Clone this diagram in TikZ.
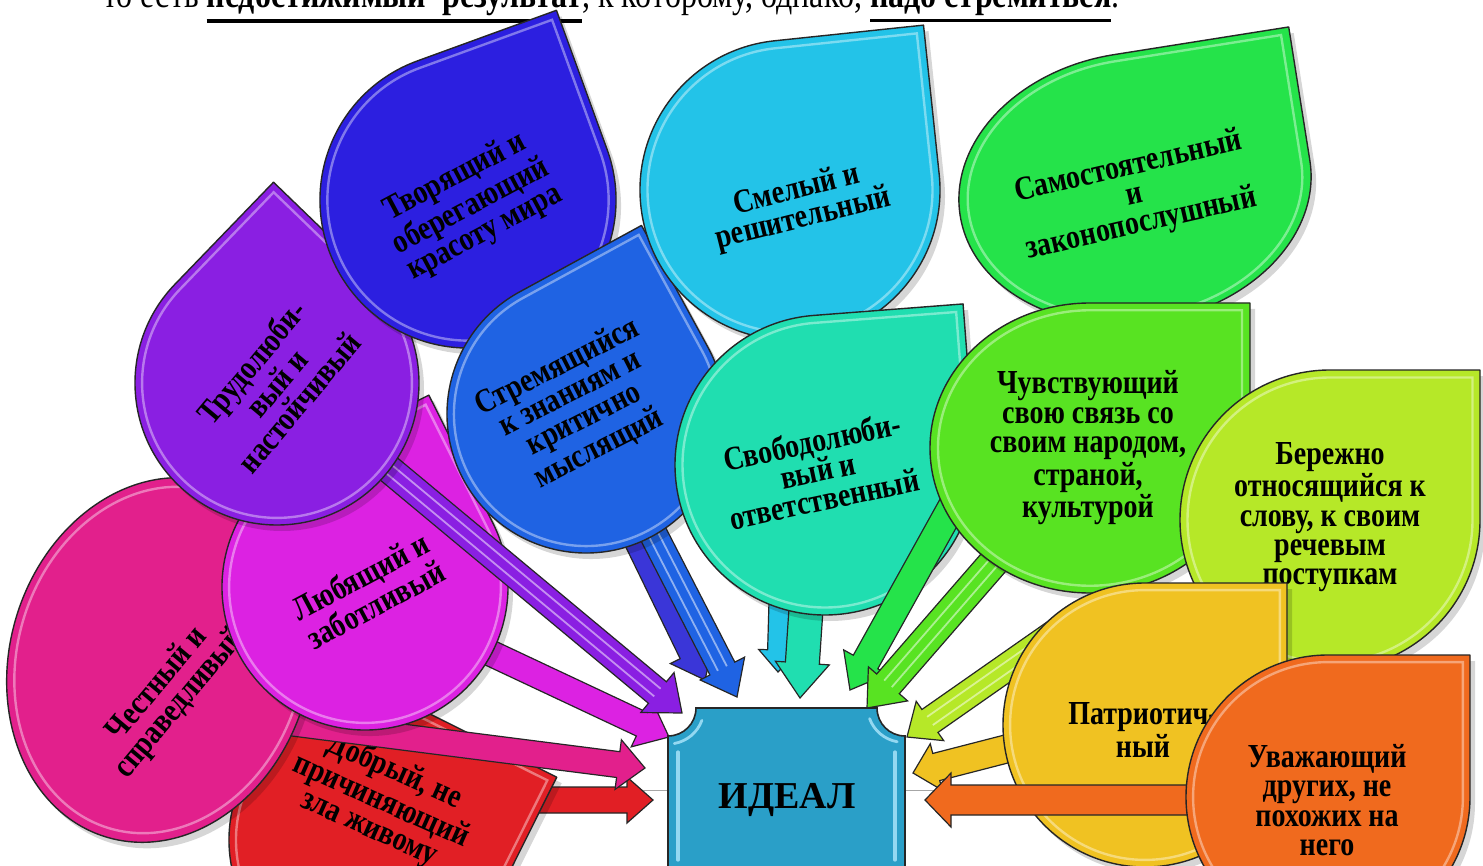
\documentclass[tikz,border=0pt]{standalone}
\usepackage{fontspec}
\setmainfont{Liberation Serif}
\usetikzlibrary{calc}
\definecolor{cRed}{HTML}{E11F25}
\definecolor{cPink}{HTML}{E2208C}
\definecolor{cMag}{HTML}{DC22E2}
\definecolor{cPur}{HTML}{8A1FE2}
\definecolor{cTvo}{HTML}{2C1FE0}
\definecolor{cTvoA}{HTML}{3A36D8}
\definecolor{cStr}{HTML}{1F63E3}
\definecolor{cSme}{HTML}{23C3E8}
\definecolor{cSvo}{HTML}{20DEB0}
\definecolor{cSam}{HTML}{25E34A}
\definecolor{cChu}{HTML}{58E322}
\definecolor{cBer}{HTML}{B6E828}
\definecolor{cPat}{HTML}{F0C222}
\definecolor{cUva}{HTML}{F06A1E}
\definecolor{cIdeal}{HTML}{2A9FC8}

\newcommand\myul[1]{\leavevmode\vtop{\hbox{#1}\kern1.2pt\hrule height 1.4pt}}

% teardrop: name, cx, cy, rx, ry, rotate, colour
\newcommand\tdrop[7]{%
  \begin{scope}[shift={(#2+5,#3+6)},rotate=#6]
    \fill[black,opacity=0.16] (#4,-#5) -- (#4,0) arc[start angle=0,delta angle=270,x radius=#4,y radius=#5] -- cycle;
  \end{scope}
  \begin{scope}[shift={(#2,#3)},rotate=#6]
    \coordinate (#1) at (0,0);
    \filldraw[fill=#7,draw=black!85,line width=0.7pt,line join=round] (#4,-#5) -- (#4,0) arc[start angle=0,delta angle=270,x radius=#4,y radius=#5] -- cycle;
    \draw[white,opacity=0.4,line width=1.2pt,scale=0.95] (#4,-#5) -- (#4,0) arc[start angle=0,delta angle=270,x radius=#4,y radius=#5] -- cycle;
  \end{scope}}

% block arrow: tail, tip, shaft half width, head half width, head length, colour
\newcommand\barrow[6]{%
  \coordinate (hb) at ($(#2)!#5!(#1)$);
  \filldraw[fill=#6,draw=black!85,line width=0.6pt,line join=miter]
    ($(#1)!#3!90:(#2)$) -- ($(hb)!#3!90:(#2)$) -- ($(hb)!#4!90:(#2)$) -- (#2)
    -- ($(hb)!#4!-90:(#2)$) -- ($(hb)!#3!-90:(#2)$) -- ($(#1)!#3!-90:(#2)$) -- cycle;}
% light stripe along the shaft (after \barrow): tail, tip, offset, side angle
\newcommand\bstripe[4]{%
  \draw[white,opacity=0.5,line width=0.9pt] ($(#1)!#3!#4:(#2)$) -- ($(hb)!#3!#4:(#2)$);}

\tikzset{lbl/.style={font=\fontsize{14}{12.2}\selectfont\bfseries,align=center,text=black,inner sep=0pt,rotate=#1,yscale=1.2},
         lbl/.default=0}

\begin{document}
\begin{tikzpicture}[x=0.5pt,y=-0.5pt]
\useasboundingbox (0,0) rectangle (1483,866);
\fill[white] (0,0) rectangle (1483,866);
\clip (0,0) rectangle (1483,866);

% top line of text
\node[anchor=base west,inner sep=0pt,font=\fontsize{16}{16}\selectfont,yscale=1.2] (toptext) at (103,8)
  {то есть \myul{\textbf{недостижимый\ \ результат}}, к которому, однако, \myul{\textbf{надо стремиться}}.};

% thin layout line
\coordinate (lineL) at (560,790);
\coordinate (lineR) at (1000,790);
\draw[gray!70,line width=0.5pt] (lineL) -- (lineR);

% arrow end points
\coordinate (aRt) at (460,800);  \coordinate (aRh) at (653,800);
\coordinate (aPkt) at (230,715); \coordinate (aPkh) at (645,768);
\coordinate (aMt) at (420,620);  \coordinate (aMh) at (669,737);
\coordinate (aPut) at (330,420); \coordinate (aPuh) at (682,713);
\coordinate (aTt) at (520,300);  \coordinate (aTh) at (705,680);
\coordinate (aSt) at (610,450);  \coordinate (aSh) at (737,697);
\coordinate (aCt) at (790,250);  \coordinate (aCh) at (778,672);
\coordinate (aVt) at (812,520);  \coordinate (aVh) at (800,698);
\coordinate (aGt) at (1000,420); \coordinate (aGh) at (850,690);
\coordinate (aChut) at (1000,555); \coordinate (aChuh) at (867,708);
\coordinate (aBt) at (1060,630); \coordinate (aBh) at (907,737);
\coordinate (aPat) at (1010,748); \coordinate (aPah) at (913,773);
\coordinate (aUt) at (1200,800); \coordinate (aUh) at (925,800);

% red
\barrow{aRt}{aRh}{6.5pt}{11.5pt}{13pt}{cRed}
\tdrop{dRed}{369}{840}{140}{140}{-26.5}{cRed}
\node[lbl=-24] (tRed) at (382,800) {Добрый, не\\причиняющий\\зла живому};

% pink
\barrow{aPkt}{aPkh}{6.5pt}{12.5pt}{13.5pt}{cPink}
\tdrop{dPink}{160}{660}{150}{185}{-17}{cPink}
\node[lbl=50] (tPink) at (169,694) {Честный и\\справедливый};

% magenta
\barrow{aMt}{aMh}{6.5pt}{12.5pt}{15pt}{cMag}
\tdrop{dMag}{365}{587}{143}{143}{26.6}{cMag}
\node[lbl=28] (tMag) at (368,590) {Любящий и\\заботливый};

% purple
\barrow{aPut}{aPuh}{7pt}{13pt}{16pt}{cPur}
\bstripe{aPut}{aPuh}{2.5pt}{90}\bstripe{aPut}{aPuh}{2.5pt}{-90}
\tdrop{dPur}{277}{383}{142}{142}{46}{cPur}
\node[lbl=50] (tPur) at (275,382) {Трудолюби-\\вый и\\настойчивый};

% dark blue
\barrow{aTt}{aTh}{6.5pt}{12pt}{15pt}{cTvoA}
\tdrop{dTvo}{468}{200}{148}{148}{20}{cTvo}
\node[lbl=28] (tTvo) at (470,205) {Творящий и\\оберегающий\\красоту мира};

% blue
\barrow{aSt}{aSh}{7pt}{12.5pt}{16pt}{cStr}
\bstripe{aSt}{aSh}{2.5pt}{90}\bstripe{aSt}{aSh}{2.5pt}{-90}
\tdrop{dStr}{586}{414}{139}{139}{28.6}{cStr}
\node[lbl=27] (tStr) at (578,408) {Стремящийся\\к знаниям и\\критично\\мыслящий};

% cyan
\barrow{aCt}{aCh}{5.5pt}{10pt}{11pt}{cSme}
\tdrop{dSme}{790}{190}{150}{150}{6}{cSme}
\node[lbl=14] (tSme) at (800,205) {Смелый и\\решительный};

% teal
\barrow{aVt}{aVh}{8.5pt}{13.5pt}{17.5pt}{cSvo}
\tdrop{dSvo}{825}{465}{150}{150}{4.4}{cSvo}
\node[lbl=12] (tSvo) at (818,470) {Свободолюби-\\вый и\\ответственный};

% green
\barrow{aGt}{aGh}{7pt}{12.5pt}{16pt}{cSam}
\tdrop{dSam}{1135}{188}{177}{135}{9}{cSam}
\node[lbl=13] (tSam) at (1135,196) {Самостоятельный\\и\\законопослушный};

% light green
\barrow{aChut}{aChuh}{7.5pt}{13pt}{16pt}{cChu}
\bstripe{aChut}{aChuh}{2.5pt}{90}\bstripe{aChut}{aChuh}{2.5pt}{-90}
\tdrop{dChu}{1090}{448}{160}{145}{0}{cChu}
\node[lbl] (tChu) at (1088,448) {Чувствующий\\свою связь со\\своим народом,\\страной,\\культурой};

% yellow-green
\barrow{aBt}{aBh}{7pt}{12pt}{14pt}{cBer}
\bstripe{aBt}{aBh}{2.5pt}{90}\bstripe{aBt}{aBh}{2.5pt}{-90}
\tdrop{dBer}{1330}{520}{150}{150}{0}{cBer}
\node[lbl] (tBer) at (1330,517) {Бережно\\относящийся к\\слову, к своим\\речевым\\поступкам};

% yellow
\barrow{aPat}{aPah}{7pt}{12pt}{12pt}{cPat}
\tdrop{dPat}{1145}{725}{142}{142}{0}{cPat}
\node[lbl] (tPat) at (1143,730) {Патриотич-\\ный};

% orange
\barrow{aUt}{aUh}{7.5pt}{13.5pt}{13pt}{cUva}
\tdrop{dUva}{1328}{797}{142}{142}{0}{cUva}
\node[lbl] (tUva) at (1327,800) {Уважающий\\других, не\\похожих на\\него};

% central plaque
\filldraw[fill=cIdeal,draw=black!85,line width=0.8pt]
  (696,708) -- (877,708) arc[start angle=180,end angle=90,radius=28]
  -- (905,900) -- (668,900) -- (668,736) arc[start angle=90,end angle=0,radius=28] -- cycle;
\draw[cyan!35!white,line width=1.6pt,line cap=round,opacity=0.85] (678,752) -- (678,860);
\draw[cyan!35!white,line width=1.6pt,line cap=round,opacity=0.85] (895,752) -- (895,860);
\draw[cyan!35!white,line width=1.4pt,line cap=round,opacity=0.85] (674.3,743.5) arc[start angle=80,end angle=20,radius=36];
\draw[cyan!35!white,line width=1.4pt,line cap=round,opacity=0.85] (869.6,718.6) arc[start angle=160,end angle=100,radius=36];
\node[font=\fontsize{19}{20}\selectfont\bfseries,inner sep=0pt] (ideal) at (787,800) {ИДЕАЛ};
\end{tikzpicture}
\end{document}
